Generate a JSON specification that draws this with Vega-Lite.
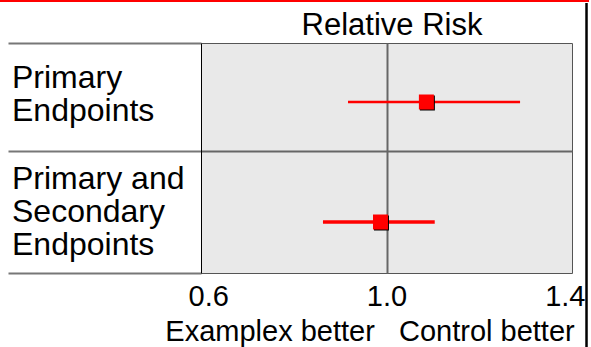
{
  "$schema": "https://vega.github.io/schema/vega-lite/v6.json",
  "width": 371,
  "height": 230,
  "autosize": {"type": "none"},
  "padding": {"left": 201, "top": 43, "right": 19, "bottom": 74},
  "background": "white",
  "config": {
    "view": {"fill": "#e9e9e9", "stroke": "#555", "strokeWidth": 1},
    "font": "Liberation Sans"
  },
  "data": {
    "values": [
      {"label": "Primary Endpoints", "est": 1.086, "lo": 0.917, "hi": 1.288, "pos": 5.9},
      {"label": "Primary and Secondary Endpoints", "est": 0.987, "lo": 0.863, "hi": 1.104, "pos": 17.9}
    ]
  },
  "resolve": {"axis": {"x": "independent"}},
  "layer": [
    {
      "mark": {"type": "rule", "color": "red"},
      "encoding": {
        "x": {
          "field": "lo",
          "type": "quantitative",
          "scale": {"domain": [0.6, 1.4], "nice": false, "zero": false},
          "axis": {
            "orient": "bottom",
            "values": [0.6, 1.0, 1.4],
            "format": ".1f",
            "labelFontSize": 29,
            "labelColor": "black",
            "labelFlush": true,
            "labelFlushOffset": 13,
            "labelOverlap": false,
            "labelBaseline": "alphabetic",
            "labelPadding": 32,
            "ticks": false,
            "domain": false,
            "grid": true,
            "gridColor": "#666",
            "gridWidth": 2,
            "gridOpacity": {"condition": {"test": "datum.value == 1", "value": 1}, "value": 0},
            "title": "Examplex better\u00a0\u00a0\u00a0Control better",
            "titleFontSize": 29,
            "titleFontWeight": "normal",
            "titleColor": "black",
            "titleX": 168.5,
            "titleY": 67,
            "titleAlign": "center",
            "titleBaseline": "alphabetic"
          }
        },
        "x2": {"field": "hi"},
        "y": {
          "field": "pos",
          "type": "quantitative",
          "scale": {"domain": [0, 23], "reverse": true, "nice": false, "zero": false},
          "axis": {
            "values": [0, 4.4, 10.8, 14.5, 23],
            "labelExpr": "datum.value == 4.4 ? ['Primary', 'Endpoints'] : datum.value == 14.5 ? ['Primary and', 'Secondary', 'Endpoints'] : ''",
            "labelAlign": "left",
            "labelBaseline": "alphabetic",
            "labelFontSize": 32,
            "labelLineHeight": 33,
            "labelColor": "black",
            "labelPadding": -3.5,
            "labelOverlap": false,
            "labelBound": false,
            "tickSize": 193,
            "tickWidth": 2,
            "tickColor": "#777",
            "tickOpacity": {"condition": {"test": "datum.value == 4.4 || datum.value == 14.5", "value": 0}, "value": 1},
            "grid": true,
            "gridColor": "#666",
            "gridWidth": 2,
            "gridOpacity": {"condition": {"test": "datum.value == 10.8", "value": 1}, "value": 0},
            "domainColor": "black",
            "domainWidth": 1,
            "title": null
          }
        },
        "strokeWidth": {"condition": {"test": "datum.pos > 10", "value": 3.5}, "value": 2.5}
      }
    },
    {
      "mark": {"type": "point", "shape": "square", "filled": true, "size": 225, "color": "black", "opacity": 1, "xOffset": 1, "yOffset": 1},
      "encoding": {
        "x": {
          "field": "est",
          "type": "quantitative",
          "axis": {
            "orient": "top",
            "labels": false,
            "ticks": false,
            "domain": false,
            "grid": false,
            "title": "Relative Risk",
            "titleFontSize": 31,
            "titleFontWeight": "normal",
            "titleColor": "black",
            "titleX": 190.5,
            "titleY": -9,
            "titleAlign": "center",
            "titleBaseline": "alphabetic"
          }
        },
        "y": {"field": "pos", "type": "quantitative"}
      }
    },
    {
      "mark": {"type": "point", "shape": "square", "filled": true, "size": 225, "color": "red", "opacity": 1},
      "encoding": {
        "x": {"field": "est", "type": "quantitative", "axis": null},
        "y": {"field": "pos", "type": "quantitative"}
      }
    },
    {
      "mark": {"type": "rule", "color": "red", "strokeWidth": 2},
      "encoding": {
        "x": {"datum": 0.1666, "axis": null},
        "x2": {"datum": 1.4367},
        "y": {"datum": -4.2}
      }
    },
    {
      "mark": {"type": "rule", "color": "black", "strokeWidth": 2},
      "encoding": {
        "x": {"datum": 1.4313, "axis": null},
        "y": {"datum": -4},
        "y2": {"datum": 30.4}
      }
    }
  ]
}
